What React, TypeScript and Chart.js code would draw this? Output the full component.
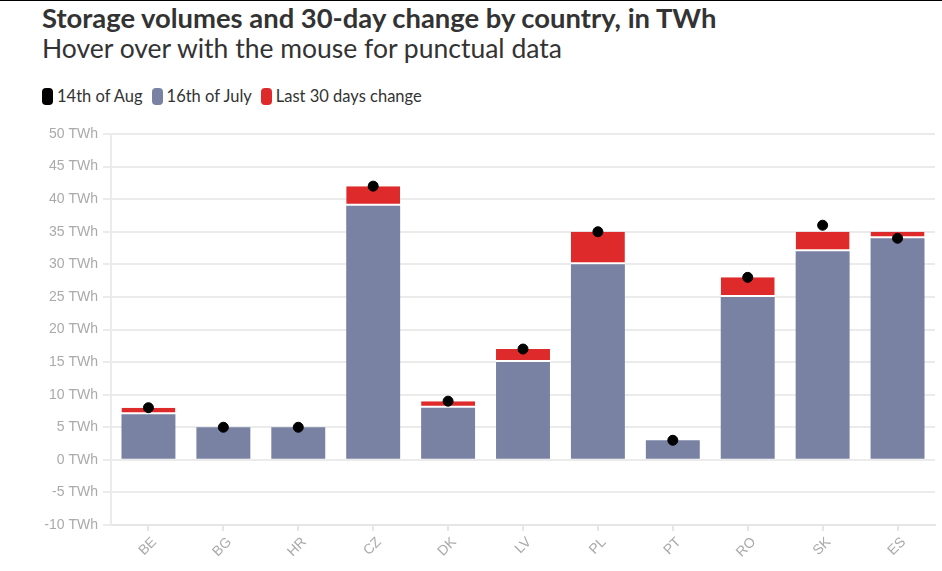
import React, { useEffect, useRef } from "react";
import { Chart, registerables } from "chart.js";

Chart.register(...registerables);

const countries = ["BE", "BG", "HR", "CZ", "DK", "LV", "PL", "PT", "RO", "SK", "ES"];
const july16 = [7, 5, 5, 39, 8, 15, 30, 3, 25, 32, 34];
const change30 = [1, 0, 0, 3, 1, 2, 5, 0, 3, 3, 1];
const aug14 = [8, 5, 5, 42, 9, 17, 35, 3, 28, 36, 34];
const yTicks = { min: -10, max: 50, step: 5, unit: " TWh" };

const BLUE = "#7982a3";
const RED = "#de2a2a";
const FONT = "Lato, 'Noto Sans', sans-serif";
const TICK_FONT = "'Liberation Sans', Arial, sans-serif";

export default function App() {
  const ref = useRef<HTMLCanvasElement>(null);
  useEffect(() => {
    document.body.style.margin = "0";
    const ctx = ref.current!;
    const chart = new Chart(ctx, {
      type: "bar",
      data: {
        labels: countries,
        datasets: [
          {
            type: "line",
            label: "14th of Aug",
            data: aug14,
            showLine: false,
            pointRadius: 5,
            pointHoverRadius: 6,
            pointBackgroundColor: "#000",
            pointBorderColor: "#000",
            backgroundColor: "#000",
            borderColor: "#000",
            order: 0,
          } as any,
          {
            type: "bar",
            label: "16th of July",
            data: july16,
            backgroundColor: BLUE,
            borderWidth: 0,
            stack: "s",
            order: 1,
          },
          {
            type: "bar",
            label: "Last 30 days change",
            data: change30,
            backgroundColor: RED,
            borderColor: "#fff",
            borderWidth: { top: 0, left: 0, right: 0, bottom: 2 },
            borderSkipped: false,
            stack: "s",
            order: 1,
          },
        ],
      },
      options: {
        animation: false,
        responsive: false,
        maintainAspectRatio: false,
        layout: { padding: { left: 0, right: 6, top: 23, bottom: 0 } },
        plugins: {
          legend: { display: false },
          title: { display: false },
          tooltip: { enabled: true },
        },
        scales: {
          x: {
            stacked: true,
            offset: true,
            grid: { display: true, drawOnChartArea: false, drawTicks: true, tickLength: 6, color: "#e6e6e6", lineWidth: 2, offset: false },
            border: { display: true, color: "#e6e6e6", width: 2 },
            ticks: {
              color: "#aaaaaa",
              font: { family: TICK_FONT, size: 14 },
              minRotation: 45,
              maxRotation: 45,
              padding: 3,
              labelOffset: 6,
            },
            afterFit: (s: any) => {
              s.height = 47;
            },
            categoryPercentage: 1,
            barPercentage: 0.75,
          } as any,
          y: {
            stacked: true,
            min: yTicks.min,
            max: yTicks.max,
            ticks: {
              stepSize: yTicks.step,
              color: "#aaaaaa",
              font: { family: TICK_FONT, size: 14 },
              padding: 5,
              callback: (v: any) => `${v}${yTicks.unit}`,
            },
            grid: { color: "#ebebeb", lineWidth: 2, tickLength: 8, drawTicks: true },
            border: { display: true, color: "#ebebeb", width: 2 },
            afterFit: (s: any) => {
              s.width = 111;
            },
          },
        },
      },
    });
    return () => chart.destroy();
  }, []);

  const legendItem = (color: string, text: string, mr: number) => (
    <span style={{ display: "inline-flex", alignItems: "center", marginRight: mr }}>
      <span style={{ display: "inline-block", width: 11, height: 17, borderRadius: 4, background: color, marginRight: 4 }} />
      <span>{text}</span>
    </span>
  );

  return (
    <div style={{ position: "relative", width: 942, height: 571, overflow: "hidden", borderTop: "1px solid #000", boxSizing: "border-box", background: "#fff" }}>
      <div style={{ position: "absolute", left: 42, top: 3, fontFamily: FONT, fontWeight: 700, fontSize: 27.4, lineHeight: "27px", color: "#333", whiteSpace: "nowrap" }}>
        Storage volumes and 30-day change by country, in TWh
      </div>
      <div style={{ position: "absolute", left: 42, top: 34, fontFamily: FONT, fontWeight: 400, fontSize: 26.5, lineHeight: "27px", color: "#333", whiteSpace: "nowrap" }}>
        Hover over with the mouse for punctual data
      </div>
      <div style={{ position: "absolute", left: 42, top: 87, fontFamily: FONT, fontSize: 16.5, lineHeight: "17px", color: "#333", whiteSpace: "nowrap", display: "flex" }}>
        {legendItem("#000", "14th of Aug", 9)}
        {legendItem(BLUE, "16th of July", 9)}
        {legendItem(RED, "Last 30 days change", 0)}
      </div>
      <canvas ref={ref} width={942} height={461} style={{ position: "absolute", left: 0, top: 110, width: 942, height: 461 }} />
    </div>
  );
}
